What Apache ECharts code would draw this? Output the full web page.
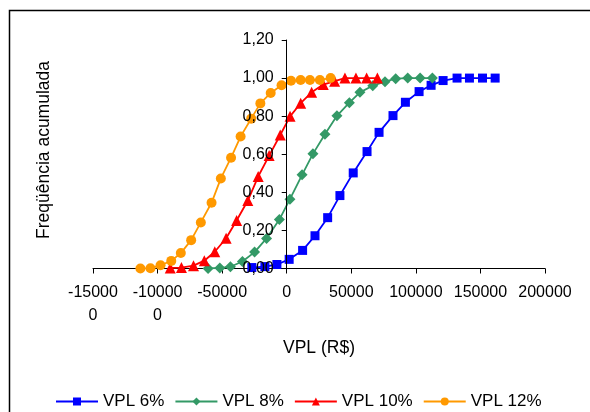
<!DOCTYPE html>
<html>
<head>
<meta charset="utf-8">
<script src="https://cdn.jsdelivr.net/npm/echarts@6/dist/echarts.min.js"></script>
<style>
html,body{margin:0;padding:0;background:#fff;}
#chart{width:590px;height:412px;}
</style>
</head>
<body>
<div id="chart"></div>
<script>
// ---- data ----
var seriesNames = ['VPL 6%', 'VPL 8%', 'VPL 10%', 'VPL 12%'];
var x6 = [-27000,-16900,-7600,1900,12300,21900,31700,41200,51500,62200,71500,82300,91900,102500,111800,121100,131900,141500,151600,161400];
var y6 = [0.005,0.010,0.021,0.048,0.095,0.172,0.267,0.383,0.502,0.614,0.715,0.803,0.873,0.929,0.962,0.987,1,1,1,1];
var x8 = [-60900,-51800,-43600,-34300,-24900,-15600,-5700,2500,11900,20300,29600,38900,48500,56700,66600,76100,84400,93700,103300,112800];
var y8 = [0.000,0.003,0.009,0.037,0.086,0.158,0.257,0.364,0.492,0.602,0.705,0.802,0.871,0.925,0.960,0.981,0.997,1,1,1];
var x10 = [-90200,-81500,-72200,-63800,-55700,-46900,-38800,-30100,-22100,-13600,-5000,2600,10800,19300,28300,37100,45100,53600,61900,70200];
var y10 = [0.003,0.005,0.015,0.041,0.088,0.159,0.252,0.357,0.483,0.593,0.701,0.799,0.868,0.925,0.966,0.984,1,1,1,1];
var x12 = [-113300,-105500,-97700,-89400,-82000,-74000,-66500,-58200,-51000,-43100,-35700,-27500,-20400,-12400,-4000,3300,10800,18000,25700,34000];
var y12 = [0.000,0.001,0.017,0.040,0.081,0.149,0.242,0.345,0.473,0.582,0.693,0.787,0.867,0.922,0.962,0.986,0.99,0.99,0.99,1];
var xTickLabels = {'-150000':'-15000\n0','-100000':'-10000\n0'};
var xTitle = 'VPL (R$)';
var yTitle = 'Freqüência acumulada';

function pairs(xs, ys){ return xs.map(function(x,i){ return [x, ys[i]]; }); }

var FONT = '"Liberation Sans", Arial, sans-serif';
var chart = echarts.init(document.getElementById('chart'), null, {renderer:'canvas'});

var colors = ['#0000FF','#339966','#FF0000','#FF9900'];
var symbols = ['rect','diamond','triangle','circle'];
var sizes = [9, 11, 11, 10];
var datas = [pairs(x6,y6), pairs(x8,y8), pairs(x10,y10), pairs(x12,y12)];

var XMIN = -150000, XMAX = 200000;
var GL = 93, GR = 45, W = 590;
var gridW = W - GL - GR;
// position of the vertical axis (at x = 0) relative to grid left
var yOffset = -gridW * (0 - XMIN) / (XMAX - XMIN);

var series = seriesNames.map(function(n, i){
  return {
    name: n, type: 'line', data: datas[i],
    symbol: symbols[i], symbolSize: sizes[i], showAllSymbol: true,
    lineStyle: {color: colors[i], width: 1.8},
    itemStyle: {color: colors[i]},
    emphasis: {disabled: true},
    z: 2 + i
  };
});

chart.setOption({
  animation: false,
  color: colors,
  textStyle: {fontFamily: FONT},
  grid: {left: GL, right: GR, top: 40, bottom: 143.5, containLabel: false},
  xAxis: {
    type: 'value', min: XMIN, max: XMAX, interval: 50000,
    name: xTitle, nameLocation: 'middle', nameGap: 71,
    nameTextStyle: {fontSize: 17.5, color: '#000', fontFamily: FONT},
    axisLine: {show: true, onZero: false, lineStyle: {color: '#000', width: 1}},
    axisTick: {show: true, length: 5, lineStyle: {color: '#000'}},
    splitLine: {show: false},
    axisLabel: {
      color: '#000', fontSize: 16, fontFamily: FONT, margin: 13, lineHeight: 23,
      formatter: function(v){ return xTickLabels[String(v)] || String(v); }
    }
  },
  yAxis: {
    type: 'value', min: 0, max: 1.2, interval: 0.2, z: 10,
    position: 'left', offset: yOffset,
    axisLine: {show: true, onZero: false, lineStyle: {color: '#000', width: 1}},
    axisTick: {show: true, length: 5, lineStyle: {color: '#000'}},
    splitLine: {show: false},
    axisLabel: {
      color: '#000', fontSize: 16, fontFamily: FONT, margin: 13,
      formatter: function(v){ return v.toFixed(2).replace('.', ','); }
    }
  },
  legend: {
    data: seriesNames, left: 55, top: 393, padding: 0,
    itemWidth: 42, itemHeight: 10, itemGap: 10,
    textStyle: {fontSize: 17, color: '#000', fontFamily: FONT, padding: [0,0,0,0]}
  },
  graphic: [
    {type: 'rect', shape: {x: 9.5, y: 10.5, width: 700, height: 500},
     style: {fill: 'none', stroke: '#000', lineWidth: 1.5}, silent: true},
    {type: 'text', x: 44, y: 150, rotation: Math.PI/2,
     style: {text: yTitle, fontSize: 17.5, fontFamily: FONT, fill: '#000',
             textAlign: 'center', textVerticalAlign: 'middle'}}
  ],
  series: series
});
</script>
</body>
</html>
